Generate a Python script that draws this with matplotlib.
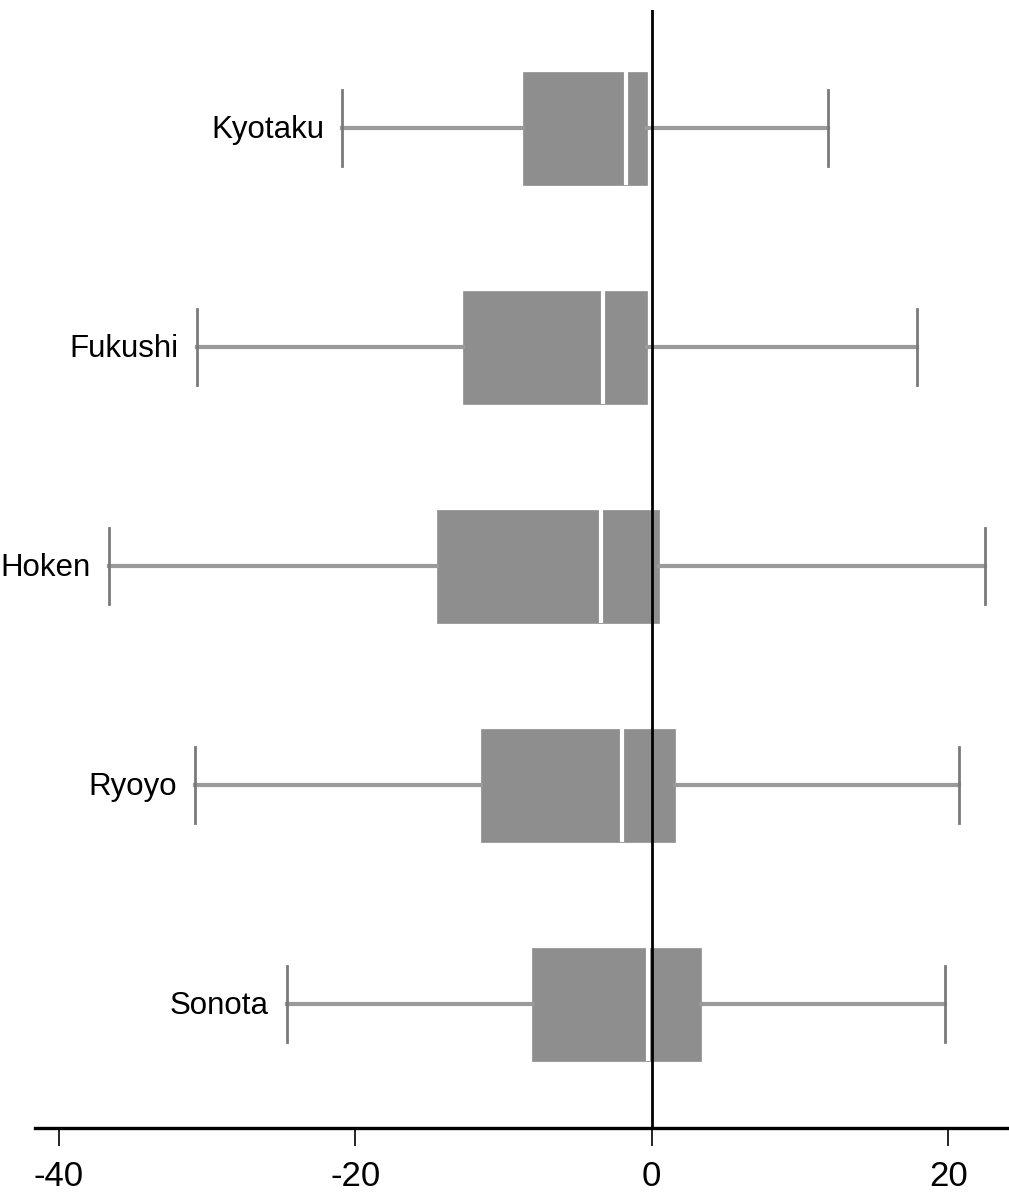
import matplotlib
matplotlib.use("Agg")
import matplotlib.pyplot as plt
from matplotlib import font_manager
import matplotlib.transforms as mtransforms

# ---- data ----
categories = ["Kyotaku", "Fukushi", "Hoken", "Ryoyo", "Sonota"]
whisker_low = [-20.9, -30.7, -36.6, -30.8, -24.6]
q1 = [-8.7, -12.7, -14.5, -11.5, -8.1]
median = [-1.75, -3.3, -3.4, -2.0, -0.25]
q3 = [-0.3, -0.3, 0.5, 1.6, 3.3]
whisker_high = [11.9, 17.9, 22.5, 20.7, 19.8]
xticks = [-40, -20, 0, 20]

# ---- font choice (condensed if available) ----
available = {f.name for f in font_manager.fontManager.ttflist}
family = [f for f in ["Liberation Sans Narrow", "DejaVu Sans Condensed", "Liberation Sans", "DejaVu Sans"] if f in available]
plt.rcParams["font.family"] = family
stretch = "condensed"

fig = plt.figure(figsize=(10.09, 12.03), dpi=100)
ax = fig.add_axes([35 / 1009, 1 - 1128 / 1203, 1 - 35 / 1009, (1128 - 10) / 1203])

n = len(categories)
positions = list(range(n, 0, -1))  # Kyotaku at top
stats = []
for i, name in enumerate(categories):
    stats.append(dict(label=name, whislo=whisker_low[i], q1=q1[i], med=median[i],
                      q3=q3[i], whishi=whisker_high[i], fliers=[]))

ax.bxp(stats, positions=positions, vert=False, widths=0.516, capwidths=0.35,
       showfliers=False, patch_artist=True,
       boxprops=dict(facecolor="#8e8e8e", edgecolor="#8e8e8e", linewidth=0.5),
       medianprops=dict(color="white", linewidth=3, solid_capstyle="butt"),
       whiskerprops=dict(color="#9a9a9a", linewidth=3),
       capprops=dict(color="#7a7a7a", linewidth=2))

ax.axvline(0, color="black", linewidth=2, zorder=5)

ax.set_xlim(-41.6, 24.1)
ax.set_ylim(0.434, n + 0.539)

# category labels placed just left of the lower whisker cap
offset = mtransforms.offset_copy(ax.transData, fig=fig, x=-18, y=-2, units="dots")
for i, name in enumerate(categories):
    ax.text(whisker_low[i], positions[i], name, transform=offset, ha="right",
            va="center", fontsize=22.5, fontstretch=stretch, color="black")

ax.set_yticks([])
ax.set_xticks(xticks)
ax.set_xticklabels([str(t) for t in xticks], fontsize=25, fontstretch=stretch)
ax.tick_params(axis="x", direction="out", length=13, width=1.2, pad=10, color="black")
for s in ["left", "top", "right"]:
    ax.spines[s].set_visible(False)
ax.spines["bottom"].set_linewidth(2.4)
ax.spines["bottom"].set_color("black")

fig.savefig("out.png", dpi=100)
